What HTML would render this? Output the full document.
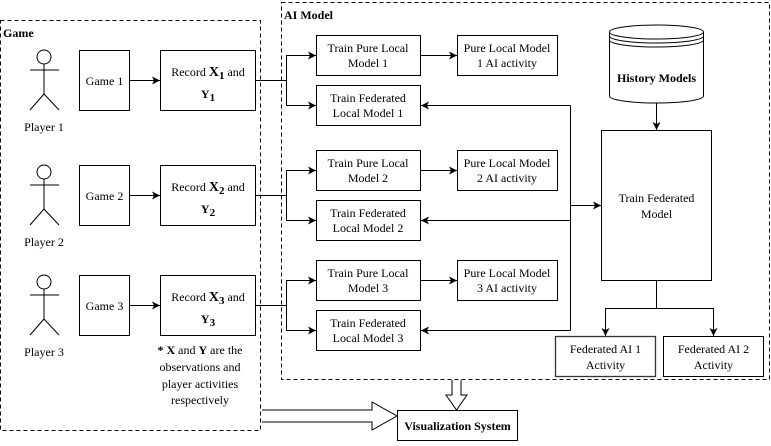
<!DOCTYPE html>
<html><head><meta charset="utf-8"><style>
body{margin:0;background:#fff}
svg, svg text{font-family:"Liberation Serif","Times New Roman",serif;font-size:12px}
</style></head><body>
<svg width="771" height="441" viewBox="0 0 771 441" xmlns="http://www.w3.org/2000/svg" font-family="Liberation Serif, serif" font-size="12">
<defs>
<marker id="a" markerWidth="9" markerHeight="9" refX="8" refY="4.5" orient="auto" markerUnits="userSpaceOnUse"><path d="M0,0.5 L8,4.5 L0,8.5 L2,4.5 Z" fill="#000"/></marker>
</defs>
<g fill="none" stroke="#000" stroke-width="1">
<rect x="0.5" y="20.5" width="260" height="410" stroke-dasharray="4,3"/>
<rect x="281.5" y="2.5" width="488" height="377" stroke-dasharray="4,3"/>
</g>
<text x="3" y="37" font-weight="bold">Game</text>
<text x="284" y="19" font-weight="bold">AI Model</text>

<g fill="none" stroke="#000">
<g id="fig1"><circle cx="44" cy="57" r="7"/><line x1="44" y1="64" x2="44" y2="94"/><line x1="30" y1="70" x2="59" y2="70"/><line x1="44" y1="94" x2="30" y2="110"/><line x1="44" y1="94" x2="59" y2="110"/></g>
<use href="#fig1" y="115"/>
<use href="#fig1" y="225"/>
<rect x="79.5" y="50.5" width="50" height="60"/><rect x="79.5" y="165.5" width="50" height="60"/><rect x="79.5" y="275.5" width="50" height="60"/>
<rect x="160.5" y="50.5" width="95" height="60"/><rect x="160.5" y="165.5" width="95" height="60"/><rect x="160.5" y="275.5" width="95" height="60"/>
<rect x="316.5" y="35.5" width="104" height="40"/><rect x="316.5" y="85.5" width="104" height="40"/>
<rect x="316.5" y="150.5" width="104" height="40"/><rect x="316.5" y="200.5" width="104" height="40"/>
<rect x="316.5" y="260.5" width="104" height="40"/><rect x="316.5" y="310.5" width="104" height="40"/>
<rect x="457.5" y="35.5" width="100" height="40"/><rect x="457.5" y="150.5" width="100" height="40"/><rect x="457.5" y="260.5" width="100" height="40"/>
<rect x="601.5" y="130.5" width="110" height="150"/>
<rect x="555.5" y="336.5" width="100" height="40" stroke="#333" stroke-width="1.3"/>
<rect x="663.5" y="336.5" width="100" height="40"/>
<rect x="397.5" y="410.5" width="120" height="30"/>
<path d="M609.5,32 A47,7 0 0 1 703.5,32 L703.5,96 A47,7 0 0 1 609.5,96 Z" fill="#fff"/>
<path d="M609.5,32 A47,7 0 0 0 703.5,32 M609.5,36 A47,7 0 0 0 703.5,36 M609.5,40 A47,7 0 0 0 703.5,40"/>
<g marker-end="url(#a)">
<line x1="129.5" y1="80.5" x2="160" y2="80.5"/><line x1="129.5" y1="195.5" x2="160" y2="195.5"/><line x1="129.5" y1="305.5" x2="160" y2="305.5"/>
<path d="M255.5,80.5 H286.5 V55.5 H316"/><path d="M286.5,80.5 V105.5 H316"/>
<path d="M255.5,195.5 H286.5 V170.5 H316"/><path d="M286.5,195.5 V220.5 H316"/>
<path d="M255.5,305.5 H286.5 V280.5 H316"/><path d="M286.5,305.5 V330.5 H316"/>
<line x1="420.5" y1="55.5" x2="457" y2="55.5"/><line x1="420.5" y1="170.5" x2="457" y2="170.5"/><line x1="420.5" y1="280.5" x2="457" y2="280.5"/>
<path d="M570.5,105.5 H421"/><path d="M570.5,220.5 H421"/><path d="M570.5,330.5 H421"/>
<line x1="570.5" y1="205.5" x2="601" y2="205.5"/>
<line x1="656.5" y1="103" x2="656.5" y2="130"/>
<path d="M656.5,281 V308.5 H605.5 V336"/><path d="M656.5,308.5 H713.5 V336"/>
</g>
<line x1="570.5" y1="105.5" x2="570.5" y2="330.5"/>
<path d="M452,380 V395 H446 L456.5,410 L467,395 H461 V380" fill="#fff"/>
<path d="M262,410 H372 V402 L397,416 L372,430 V422 H262" fill="#fff"/>
</g>

<g text-anchor="middle" fill="#000">
<text x="44" y="131">Player 1</text><text x="44" y="246">Player 2</text><text x="44" y="356">Player 3</text>
<text x="104.5" y="85">Game 1</text><text x="104.5" y="200">Game 2</text><text x="104.5" y="310">Game 3</text>
<text x="208" y="76">Record <tspan font-weight="bold" font-size="14">X<tspan font-size="11" dy="3">1</tspan></tspan><tspan dy="-3"> and</tspan></text>
<text x="208" y="98" font-weight="bold" font-size="14">Y<tspan font-size="11" dy="3">1</tspan></text>
<text x="208" y="191">Record <tspan font-weight="bold" font-size="14">X<tspan font-size="11" dy="3">2</tspan></tspan><tspan dy="-3"> and</tspan></text>
<text x="208" y="213" font-weight="bold" font-size="14">Y<tspan font-size="11" dy="3">2</tspan></text>
<text x="208" y="301">Record <tspan font-weight="bold" font-size="14">X<tspan font-size="11" dy="3">3</tspan></tspan><tspan dy="-3"> and</tspan></text>
<text x="208" y="323" font-weight="bold" font-size="14">Y<tspan font-size="11" dy="3">3</tspan></text>
<text x="200" y="354"><tspan font-weight="bold">* X</tspan> and <tspan font-weight="bold">Y</tspan> are the</text>
<text x="200" y="371">observations and</text><text x="200" y="388">player activities</text><text x="200" y="404">respectively</text>
<text x="368" y="52">Train Pure Local</text><text x="368" y="67">Model 1</text>
<text x="368" y="102">Train Federated</text><text x="368" y="117">Local Model 1</text>
<text x="368" y="167">Train Pure Local</text><text x="368" y="182">Model 2</text>
<text x="368" y="217">Train Federated</text><text x="368" y="232">Local Model 2</text>
<text x="368" y="277">Train Pure Local</text><text x="368" y="292">Model 3</text>
<text x="368" y="327">Train Federated</text><text x="368" y="342">Local Model 3</text>
<text x="507" y="52">Pure Local Model</text><text x="507" y="67">1 AI activity</text>
<text x="507" y="167">Pure Local Model</text><text x="507" y="182">2 AI activity</text>
<text x="507" y="277">Pure Local Model</text><text x="507" y="292">3 AI activity</text>
<text x="656.5" y="82" font-weight="bold">History Models</text>
<text x="656.5" y="202">Train Federated</text><text x="656.5" y="218">Model</text>
<text x="605.5" y="353">Federated AI 1</text><text x="605.5" y="369">Activity</text>
<text x="713.5" y="353">Federated AI 2</text><text x="713.5" y="369">Activity</text>
<text x="457.5" y="430" font-weight="bold">Visualization System</text>
</g>
</svg>
</body></html>
